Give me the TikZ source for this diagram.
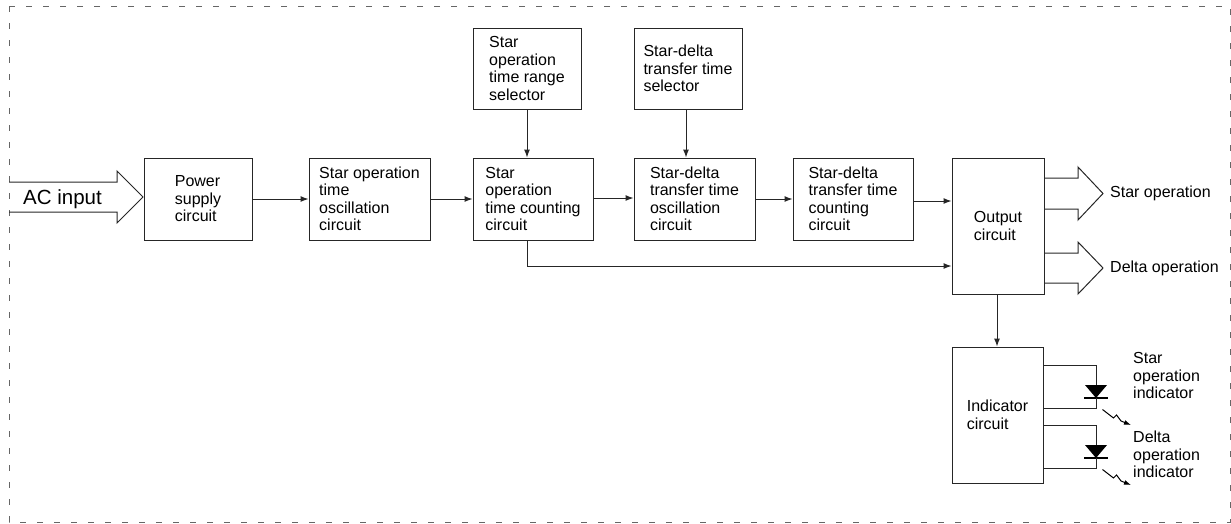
\documentclass[tikz,border=0pt]{standalone}
\usepackage{fontspec}
\setmainfont{Liberation Sans}
\usetikzlibrary{arrows.meta}
\tikzset{
  blk/.style={draw=black!85, line width=1pt, align=left, inner sep=0pt,
    font=\fontsize{16}{17.5}\selectfont},
  lbl/.style={align=left, inner sep=0pt, font=\fontsize{16}{17.5}\selectfont},
  arr/.style={draw=black!85, line width=1pt, -{Latex[length=8pt,width=6pt]}},
  wire/.style={draw=black!85, line width=1pt},
  bigarrow/.style={draw=black!85, line width=1pt, line join=miter},
  frame/.style={draw=black!60, line width=1pt, dash pattern=on 6pt off 11pt},
  ray/.style={draw=black, line width=1pt, -{Latex[length=7pt,width=5pt]}}
}
\begin{document}
\begin{tikzpicture}[x=1pt,y=-1pt]
\useasboundingbox (0,0) rectangle (1231,523);
\draw[frame] (9,6) rectangle (1230,522);

% main blocks
\node[blk, minimum width=108pt, minimum height=82pt] (pwr) at (198,199) {Power\\supply\\circuit};
\node[blk, minimum width=121pt, minimum height=82pt] (sosc) at (369.5,199) {Star operation\\time\\oscillation\\circuit};
\node[blk, minimum width=108pt, minimum height=81pt] (ssel) at (527,68.5) {Star\\operation\\time range\\selector};
\node[blk, minimum width=120pt, minimum height=82pt] (scnt) at (533,199) {Star\\operation\\time counting\\circuit};
\node[blk, minimum width=108pt, minimum height=81pt] (dsel) at (688,68.5) {Star-delta\\transfer time\\selector};
\node[blk, minimum width=121pt, minimum height=82pt] (dosc) at (694.5,199) {Star-delta\\transfer time\\oscillation\\circuit};
\node[blk, minimum width=120pt, minimum height=82pt] (dcnt) at (853,199) {Star-delta\\transfer time\\counting\\circuit};
\node[blk, minimum width=92pt, minimum height=136pt] (out) at (998,226) {Output\\circuit};
\node[blk, minimum width=91pt, minimum height=136pt] (ind) at (997.5,415) {Indicator\\circuit};

% AC input
\draw[bigarrow] (9,182) -- (117,182) -- (117,171) -- (143,197) -- (117,223) -- (117,212) -- (9,212);
\node[lbl, anchor=west, font=\fontsize{20.5}{24}\selectfont] (ac) at (23,199) {AC input};

% connectors
\draw[arr] (pwr.east) -- (sosc.west);
\draw[arr] (sosc.west -| sosc.east) -- (scnt.west);
\draw[arr] ([yshift=1pt]scnt.east) -- ([yshift=1pt]dosc.west);
\draw[arr] (dosc.east) -- (dcnt.west);
\draw[arr] ([yshift=-2pt]dcnt.east) -- ([yshift=-2pt]dcnt.east -| out.west);
\draw[arr] (ssel.south) -- (ssel.south |- scnt.north);
\draw[arr] ([xshift=-2pt]dsel.south) -- ([xshift=-2pt]dsel.south |- dosc.north);
\coordinate (bend) at (527,266);
\draw[arr] (bend |- scnt.south) -- (bend) -- (bend -| out.west);
\draw[arr] ([xshift=-1pt]out.south) -- ([xshift=-1pt]out.south |- ind.north);

% output arrows
\draw[bigarrow] (1044,178) -- (1078,178) -- (1078,167) -- (1103,193.5) -- (1078,220) -- (1078,209) -- (1044,209);
\node[lbl, anchor=west] (starop) at (1110,193) {Star operation};
\draw[bigarrow] (1044,253) -- (1078,253) -- (1078,242) -- (1103,268) -- (1078,294) -- (1078,283) -- (1044,283);
\node[lbl, anchor=west] (deltaop) at (1110,268) {Delta operation};

% LED 1
\coordinate (w1) at (1096,365);
\coordinate (d1a) at (1096,385);
\coordinate (d1k) at (1096,398);
\coordinate (w2) at (1096,408);
\draw[wire] (w1 -| ind.east) -- (w1) -- (d1a);
\fill[black] (1085,385) -- (1107,385) -- (1096,398) -- cycle;
\draw[line width=2pt] (1084,398) -- (1108,398);
\draw[wire] (d1k) -- (w2) -- (w2 -| ind.east);
\draw[ray] (1102.5,409.5) -- (1113.5,418) -- (1116.5,415) -- (1121,421) -- (1131,425);
\node[lbl, anchor=west] (sind) at (1133,375.5) {Star\\operation\\indicator};

% LED 2
\coordinate (w3) at (1096,425);
\coordinate (d2a) at (1096,445);
\coordinate (d2k) at (1096,458);
\coordinate (w4) at (1096,468);
\draw[wire] (w3 -| ind.east) -- (w3) -- (d2a);
\fill[black] (1085,445) -- (1107,445) -- (1096,458) -- cycle;
\draw[line width=2pt] (1084,458) -- (1108,458);
\draw[wire] (d2k) -- (w4) -- (w4 -| ind.east);
\draw[ray] (1102.5,469.5) -- (1113.5,478) -- (1116.5,475) -- (1121,481) -- (1131,485);
\node[lbl, anchor=west] (dind) at (1133,454.5) {Delta\\operation\\indicator};
\end{tikzpicture}
\end{document}
